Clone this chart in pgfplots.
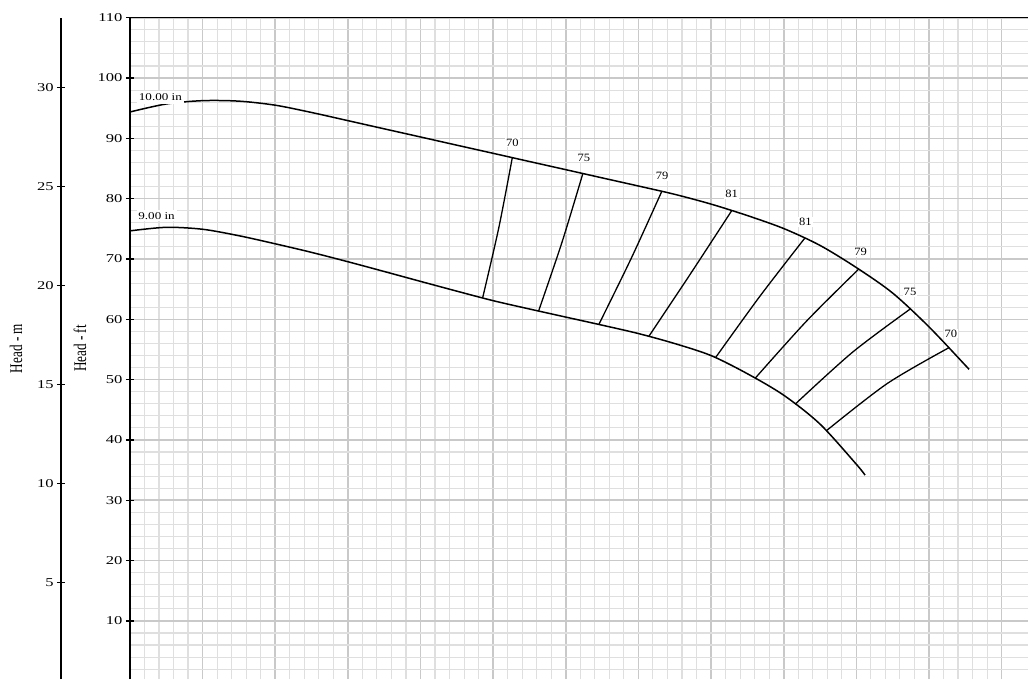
\documentclass[border=0pt]{standalone}
\usepackage{pgfplots}
\pgfplotsset{compat=1.18}
\usepackage{fontspec}
\setmainfont{Liberation Serif}
\begin{document}
\begin{tikzpicture}
\path (0pt,0pt) rectangle (514.5pt,338.5pt);
% ---------- Head - ft axis with grid and curves ----------
\begin{axis}[
  scale only axis,
  width=449.5pt, height=331pt,
  at={(65pt,0pt)}, anchor=south west,
  xmin=0, xmax=618.3, ymin=0.331, ymax=110,
  axis x line*=top, axis y line*=left,
  axis line style={-, black, line width=0.7pt},
  every outer x axis line/.append style={-},
  every outer y axis line/.append style={-},
  xtick={0,50,...,600}, xticklabels={},
  ytick={0,10,...,110},
  minor x tick num=4, minor y tick num=4,
  grid=both,
  major grid style={gray!42, line width=0.8pt},
  minor grid style={gray!25, line width=0.55pt},
  major x tick style={draw=none},
  minor tick style={draw=none},
  major y tick style={black, line width=0.65pt},
  tick align=center, major tick length=4pt,
  /pgf/number format/assume math mode=true,
  yticklabel style={font=\fontsize{6}{7}\selectfont, xscale=1.38, anchor=east, xshift=2.3pt},
  ylabel={\scalebox{1}[1.35]{Head - ft}},
  ylabel style={at={(axis description cs:-0.0556,0.5)}, anchor=center, font=\fontsize{6.6}{8}\selectfont},
]
% 10.00 in impeller curve
\addplot[black, line width=0.75pt, smooth] coordinates {
 (0,94.37) (25,95.70) (50,96.25) (75,96.17) (100,95.50) (125,94.29) (150,92.94)
 (175,91.58) (200,90.23) (225,88.87) (250,87.52) (275,86.16) (300,84.81) (325,83.45)
 (350,82.10) (375,80.72) (400,79.10) (425,77.20) (450,75.05) (475,72.25) (500,68.58)
 (525,64.35) (550,58.75) (575,52.38) (577.24,51.78)};
% 9.00 in impeller curve
\addplot[black, line width=0.75pt, smooth] coordinates {
 (0,74.66) (25,75.25) (50,74.93) (75,73.86) (100,72.52) (125,71.10) (150,69.55)
 (175,67.93) (200,66.29) (225,64.67) (250,63.09) (275,61.71) (300,60.37) (325,59.03)
 (350,57.64) (375,55.98) (400,53.99) (425,50.98) (450,47.42) (475,42.63) (500,35.97)
 (505.98,34.17)};
% iso-efficiency lines
\addplot[black, line width=0.65pt, smooth] coordinates {(263.2,86.80) (253.9,75.17) (242.78,63.55)};
\addplot[black, line width=0.65pt, smooth] coordinates {(311.76,84.17) (297.4,72.77) (281.29,61.37)};
\addplot[black, line width=0.65pt, smooth] coordinates {(366.09,81.21) (345.2,70.18) (322.77,59.15)};
\addplot[black, line width=0.65pt, smooth] coordinates {(414.24,78.02) (386.0,67.60) (357.15,57.17)};
\addplot[black, line width=0.65pt, smooth] coordinates {(464.44,73.43) (433.7,63.85) (403.03,53.63)};
\addplot[black, line width=0.65pt, smooth] coordinates {(501.58,68.31) (465.9,59.75) (430.33,50.22)};
\addplot[black, line width=0.65pt, smooth] coordinates {(536.93,61.68) (497.4,54.55) (457.84,45.92)};
\addplot[black, line width=0.65pt, smooth] coordinates {(563.62,55.28) (521.3,49.36) (479.23,41.50)};
% labels
\node[fill=white, inner xsep=0.7pt, inner ysep=1.5pt, font=\fontsize{5.2}{6}\selectfont, xscale=1.26] at (axis cs:20.98,96.85) {10.00 in};
\node[fill=white, inner xsep=0.7pt, inner ysep=1pt, font=\fontsize{5.2}{6}\selectfont, xscale=1.26] at (axis cs:18.36,77.14) {9.00 in};
\node[fill=white, inner sep=0.5pt, font=\fontsize{5.6}{6.5}\selectfont, xscale=1.12] at (axis cs:263.2,89.28) {70};
\node[fill=white, inner sep=0.5pt, font=\fontsize{5.6}{6.5}\selectfont, xscale=1.12] at (axis cs:312.45,86.80) {75};
\node[fill=white, inner sep=0.5pt, font=\fontsize{5.6}{6.5}\selectfont, xscale=1.12] at (axis cs:366.37,83.77) {79};
\node[fill=white, inner sep=0.5pt, font=\fontsize{5.6}{6.5}\selectfont, xscale=1.12] at (axis cs:414.24,80.72) {81};
\node[fill=white, inner sep=0.5pt, font=\fontsize{5.6}{6.5}\selectfont, xscale=1.12] at (axis cs:464.93,76.15) {81};
\node[fill=white, inner sep=0.5pt, font=\fontsize{5.6}{6.5}\selectfont, xscale=1.12] at (axis cs:502.96,71.18) {79};
\node[fill=white, inner sep=0.5pt, font=\fontsize{5.6}{6.5}\selectfont, xscale=1.12] at (axis cs:536.93,64.55) {75};
\node[fill=white, inner sep=0.5pt, font=\fontsize{5.6}{6.5}\selectfont, xscale=1.12] at (axis cs:565.13,57.64) {70};
\end{axis}
% ---------- Head - m axis ----------
\begin{axis}[
  scale only axis,
  width=10pt, height=331pt,
  at={(30.5pt,0pt)}, anchor=south west,
  xmin=0, xmax=1, ymin=0.1009, ymax=33.528,
  hide x axis,
  axis y line*=left,
  axis line style={-, black, line width=0.7pt},
  every outer y axis line/.append style={-},
  xtick=\empty,
  ytick={0,5,...,30},
  tick align=center, major tick length=4pt,
  major y tick style={black, line width=0.65pt},
  minor tick style={draw=none},
  /pgf/number format/assume math mode=true,
  yticklabel style={font=\fontsize{6}{7}\selectfont, xscale=1.38, anchor=east, xshift=2.3pt},
  ylabel={\scalebox{1}[1.35]{Head - m}},
  ylabel style={at={(axis description cs:-2.25,0.5)}, anchor=center, font=\fontsize{6.6}{8}\selectfont},
]
\addplot[draw=none] coordinates {(0.5,10)};
\end{axis}
\end{tikzpicture}
\end{document}
